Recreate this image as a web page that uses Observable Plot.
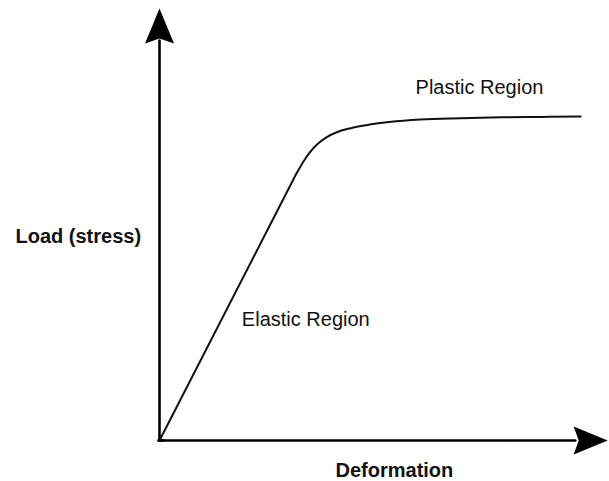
<!DOCTYPE html>
<html>
<head>
<meta charset="utf-8">
<script src="https://cdn.jsdelivr.net/npm/d3@7"></script>
<script src="https://cdn.jsdelivr.net/npm/@observablehq/plot@0.6"></script>
<style>
  html, body { margin: 0; padding: 0; background: #fff; }
</style>
</head>
<body>
<div id="chart"></div>
<script>
// Stress–strain curve (arbitrary units, 0–100 on both axes)
const deformation = [0, 29.0, 30.5, 32.0, 33.5, 35.0, 37.0, 39.5, 42.5, 46.0, 51.0, 58.0, 67.0, 76.0, 85.0, 93.6];
const load        = [0, 58.9, 61.9, 64.6, 66.8, 68.5, 70.1, 71.4, 72.3, 73.0, 73.7, 74.3, 74.6, 74.8, 74.9, 75.0];

const regionLabels = ["Elastic Region", "Plastic Region"];
const regionX = [18.3, 56.9];
const regionY = [28.0, 81.7];

const xTitle = "Deformation";
const yTitle = "Load (stress)";

const axisEnd = [100, 99.6]; // y arrow tip, x arrow tip
const shaftEnd = [92.6, 92.4];

const curve = deformation.map((d, i) => ({x: d, y: load[i]}));
const labels = regionLabels.map((t, i) => ({text: t, x: regionX[i], y: regionY[i]}));

// Filled notched arrowheads (tip at the anchor point)
const upArrow = {draw(ctx) {
  ctx.moveTo(0, 0); ctx.lineTo(14.5, 35); ctx.lineTo(0, 30); ctx.lineTo(-14.5, 35); ctx.closePath();
}};
const rightArrow = {draw(ctx) {
  ctx.moveTo(0, 0); ctx.lineTo(-34, 14); ctx.lineTo(-29, 0); ctx.lineTo(-34, -14); ctx.closePath();
}};

const font = "Liberation Sans, Arial, Helvetica, sans-serif";

const chart = Plot.plot({
  width: 609,
  height: 481,
  marginLeft: 159,
  marginRight: 0,
  marginTop: 8,
  marginBottom: 41,
  x: {domain: [0, 100], axis: null},
  y: {domain: [0, 100], axis: null},
  style: {background: "white", fontFamily: font},
  marks: [
    Plot.line([{x: 0, y: 0}, {x: 0, y: shaftEnd[0]}], {x: "x", y: "y", stroke: "black", strokeWidth: 2.6}),
    Plot.line([{x: 0, y: 0}, {x: shaftEnd[1], y: 0}], {x: "x", y: "y", stroke: "black", strokeWidth: 2.6}),
    Plot.line([{x: -0.25, y: 0}, {x: 1, y: 0}], {x: "x", y: "y", stroke: "black", strokeWidth: 2.6}),
    Plot.dot([{x: 0, y: axisEnd[0]}], {x: "x", y: "y", symbol: upArrow, r: 1, fill: "black", stroke: "none"}),
    Plot.dot([{x: axisEnd[1], y: 0}], {x: "x", y: "y", symbol: rightArrow, r: 1, fill: "black", stroke: "none"}),
    Plot.line(curve, {x: "x", y: "y", curve: "monotone-x", stroke: "#111", strokeWidth: 2}),
    Plot.text(labels, {x: "x", y: "y", text: "text", textAnchor: "start", fontSize: 20, fill: "#111"}),
    Plot.text([xTitle], {x: 52.2, y: -6.9, text: d => d, fontSize: 20, fontWeight: "bold", fill: "#111"}),
    Plot.text([yTitle], {x: -32, y: 47.2, text: d => d, textAnchor: "start", fontSize: 20, fontWeight: "bold", fill: "#111"})
  ]
});
document.getElementById("chart").appendChild(chart);
</script>
</body>
</html>
